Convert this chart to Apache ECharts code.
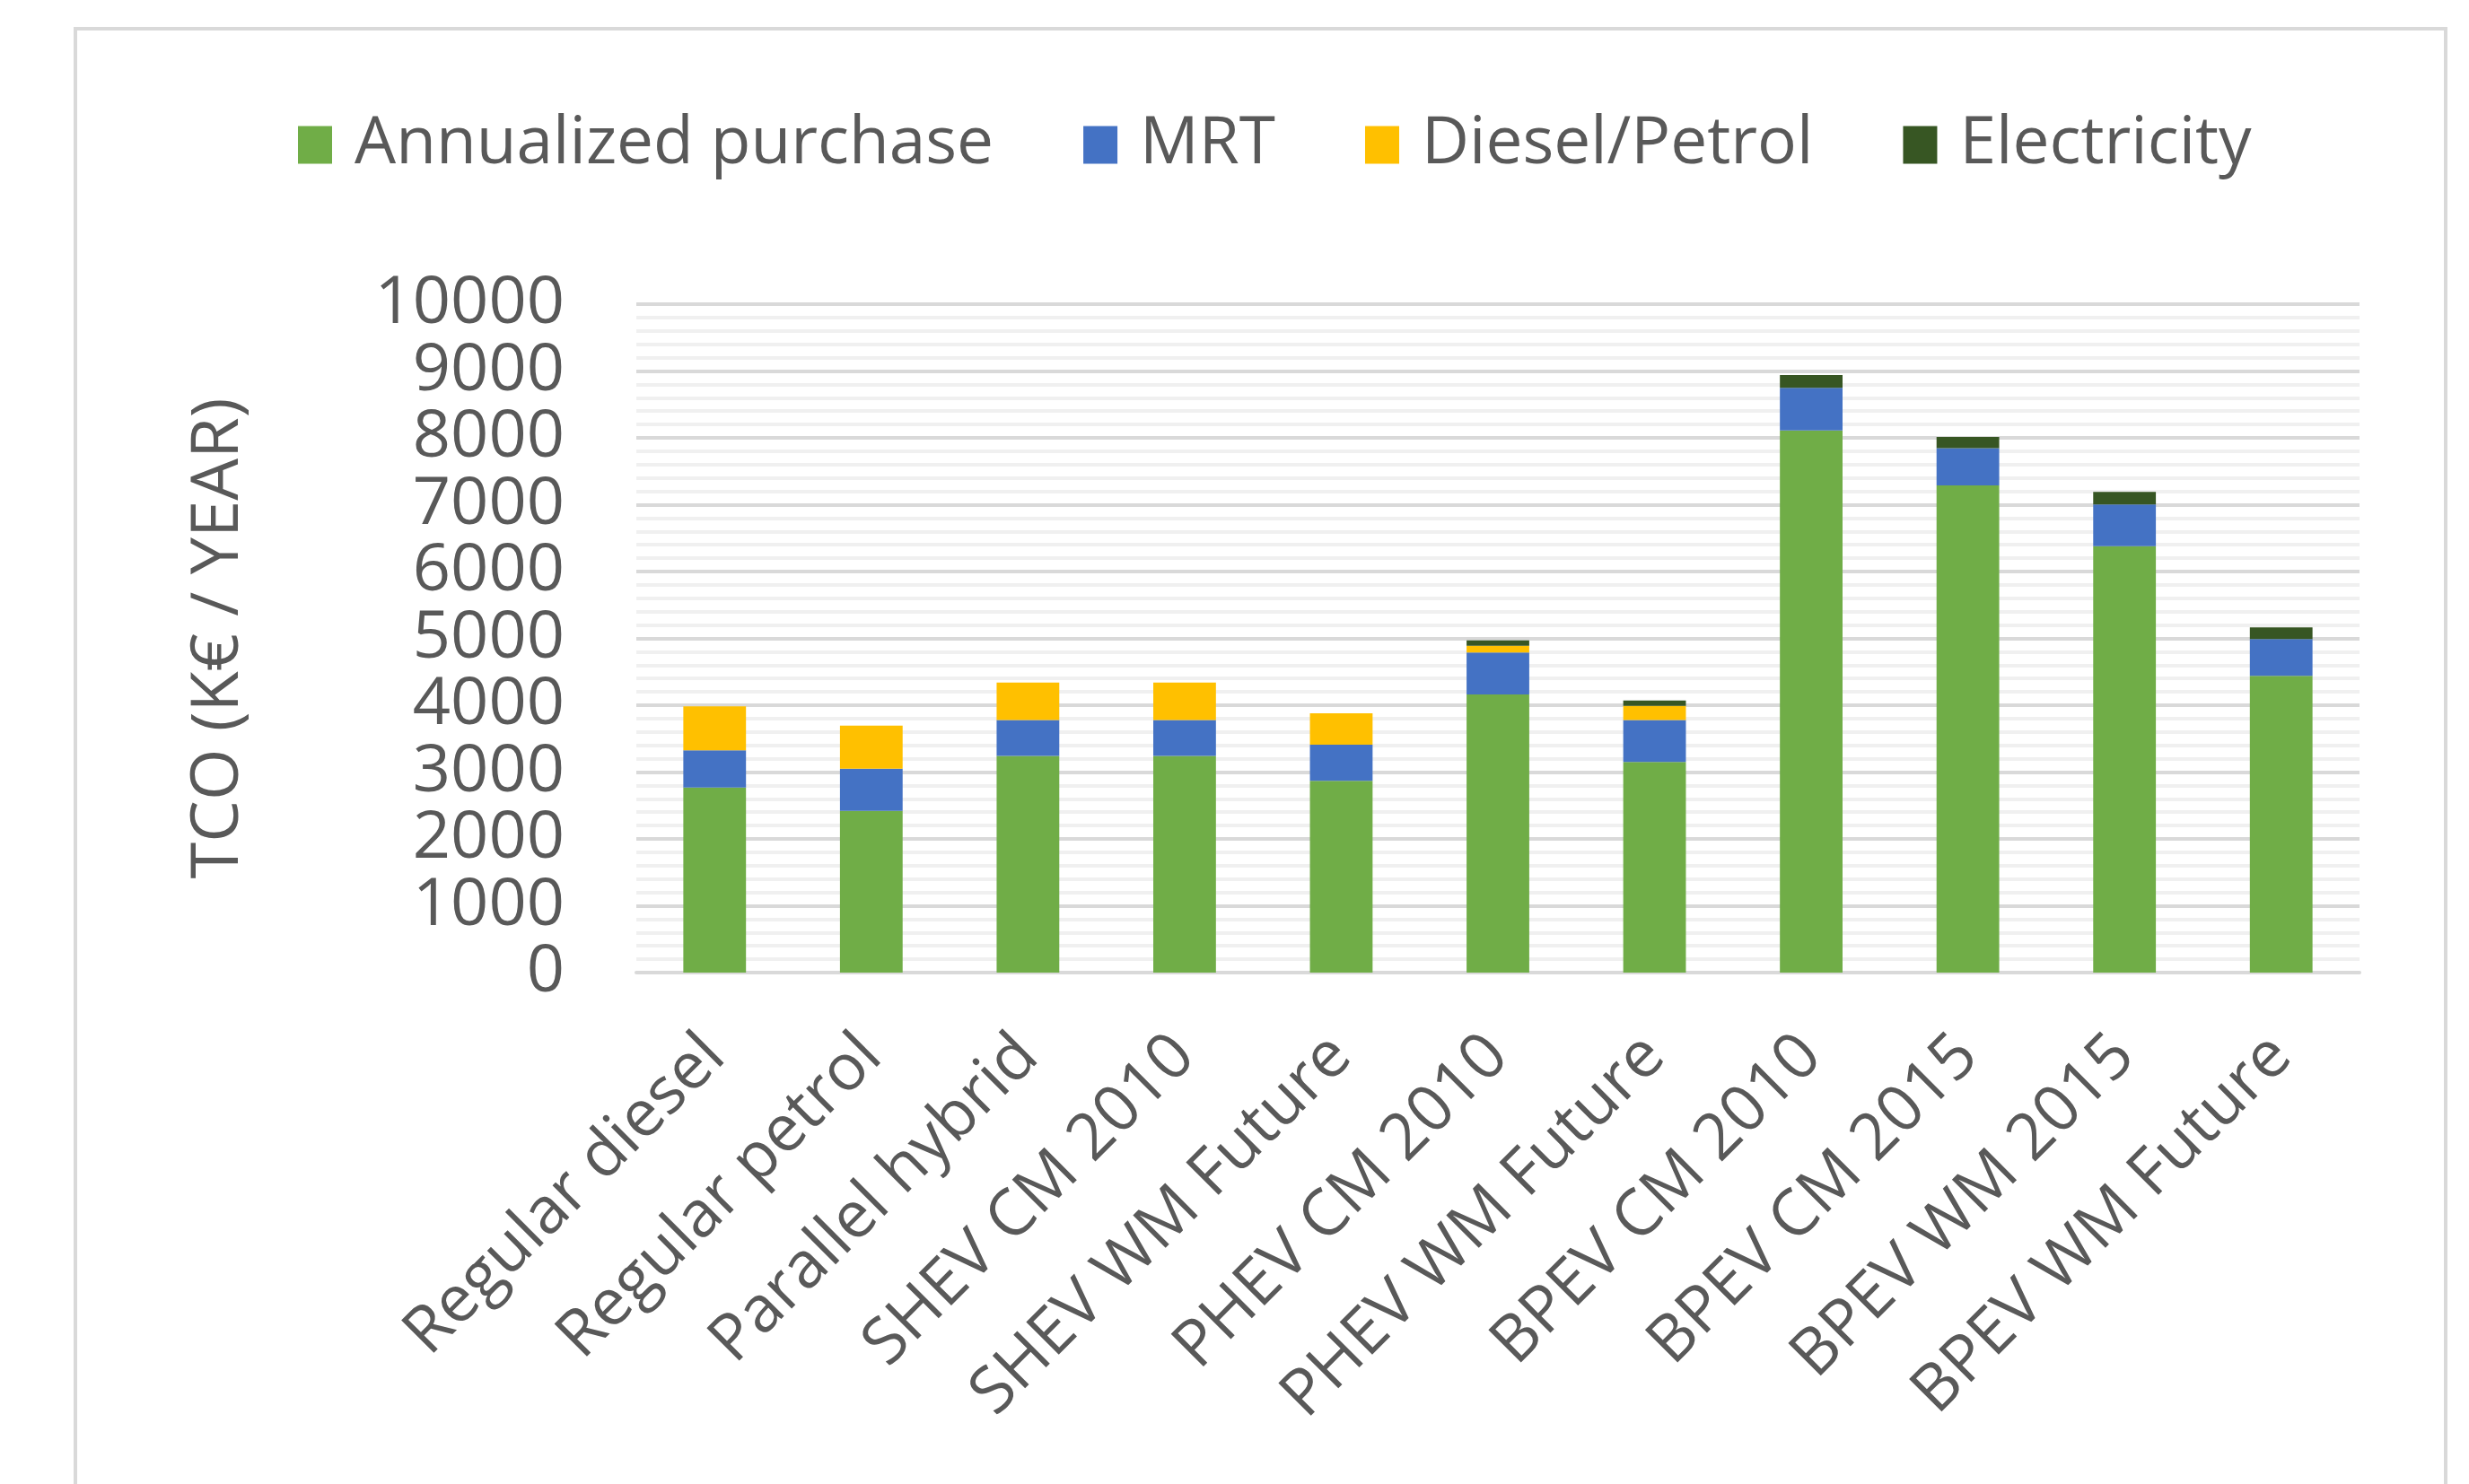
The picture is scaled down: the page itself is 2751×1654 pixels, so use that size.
<!DOCTYPE html>
<html>
<head>
<meta charset="utf-8">
<title>TCO</title>
<script src="https://cdn.jsdelivr.net/npm/echarts@6/dist/echarts.min.js"></script>
<style>
	html,body{margin:0;padding:0;background:#fff;}
	#main{width:2751px;height:1654px;}
</style>
</head>
<body>
<div id="main"></div>
<script>
// categories and stacked values (K€ / year)
var categories = ['Regular diesel','Regular petrol','Parallel hybrid','SHEV CM 2010','SHEV WM Future',
	'PHEV CM 2010','PHEV WM Future','BPEV CM 2010','BPEV CM 2015','BPEV WM 2015','BPEV WM Future'];
var purchase = [2770, 2420, 3240, 3240, 2870, 4160, 3150, 8110, 7290, 6380, 4440];
var mrt      = [ 556,  630,  540,  540,  540,  630,  630,  640,  555,  625,  550];
var fuel     = [ 658,  645,  560,  560,  470,  100,  210,    0,    0,    0,    0];
var elec     = [   0,    0,    0,    0,    0,   80,   80,  190,  170,  185,  175];
var yTicks   = [0, 10000, 1000];

var textColor = '#595959';
var fontName = 'Open Sans';

var myChart = echarts.init(document.getElementById('main'));

function barFun(name, data, color){
	return {
		name: name,
		type: 'bar',
		stack: 'tco',
		barWidth: '40%',
		data: data,
		itemStyle: {color: color}
	};
}

var option = {
	backgroundColor: '#fff',
	animation: false,
	graphic: [{
		type: 'rect',
		shape: {x: 84, y: 32, width: 2641, height: 1700},
		style: {fill: 'none', stroke: '#d9d9d9', lineWidth: 4},
		silent: true
	}],
	legend: {
		left: 327,
		top: 120,
		itemWidth: 38,
		itemHeight: 42,
		itemGap: 100,
		icon: 'rect',
		textStyle: {color: textColor, fontSize: 73, fontFamily: fontName, padding: [0, 0, 0, 20]},
		data: ['Annualized purchase', 'MRT', 'Diesel/Petrol', 'Electricity']
	},
	grid: {
		left: 709,
		right: 122,
		top: 339,
		bottom: 570,
		containLabel: false,
		outerBoundsMode: 'none'
	},
	xAxis: {
		type: 'category',
		data: categories,
		axisLine: {lineStyle: {color: '#d9d9d9', width: 4}},
		axisTick: {show: false},
		axisLabel: {
			interval: 0,
			rotate: 45,
			margin: 82,
			align: 'right',
			verticalAlign: 'middle',
			color: textColor,
			fontSize: 72,
			fontFamily: fontName
		}
	},
	yAxis: {
		type: 'value',
		min: yTicks[0],
		max: yTicks[1],
		interval: yTicks[2],
		name: 'TCO (K€ / YEAR)',
		nameLocation: 'middle',
		nameGap: 428,
		nameTextStyle: {color: textColor, fontSize: 74, fontFamily: fontName},
		axisLine: {show: false},
		axisTick: {show: false},
		axisLabel: {
			color: textColor, fontSize: 74, fontFamily: fontName, margin: 80,
			formatter: function (v) { return String(v); }
		},
		splitLine: {lineStyle: {color: '#d9d9d9', width: 4}},
		minorTick: {show: false, splitNumber: 5},
		minorSplitLine: {show: true, lineStyle: {color: '#f0f0f0', width: 4}}
	},
	series: [
		barFun('Annualized purchase', purchase, '#70ad47'),
		barFun('MRT', mrt, '#4472c4'),
		barFun('Diesel/Petrol', fuel, '#ffc000'),
		barFun('Electricity', elec, '#375623')
	]
};

myChart.setOption(option);
</script>
</body>
</html>
